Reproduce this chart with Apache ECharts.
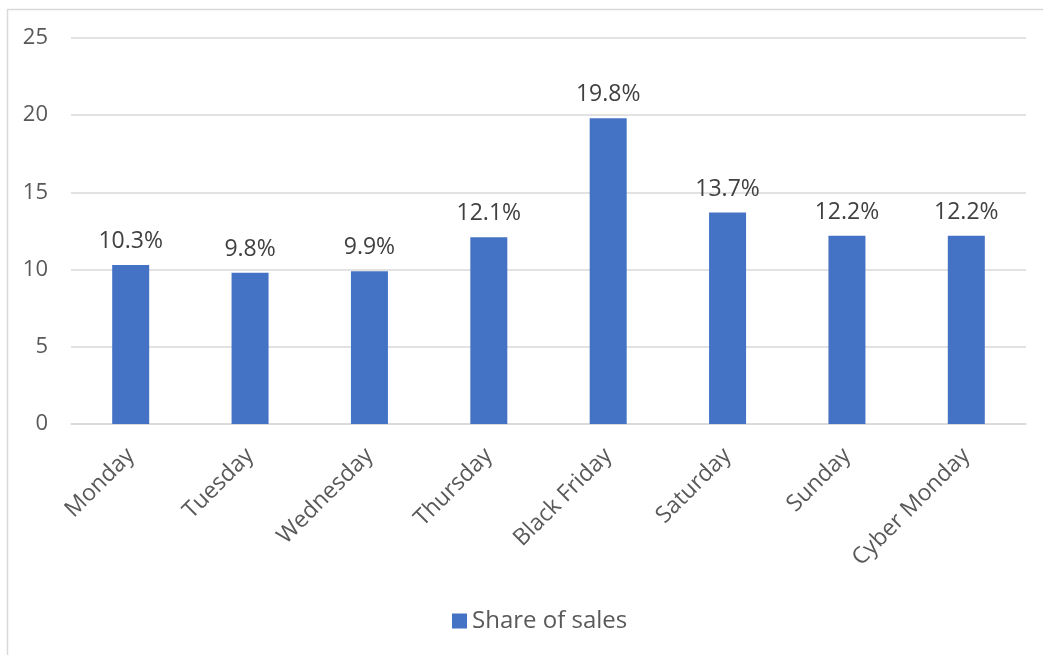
<!DOCTYPE html>
<html>
<head>
<meta charset="utf-8">
<script src="https://cdn.jsdelivr.net/npm/echarts@6/dist/echarts.min.js"></script>
<style>
  html, body { margin: 0; padding: 0; background: #ffffff; }
  #chart { width: 1043px; height: 655px; }
</style>
</head>
<body>
<div id="chart"></div>
<script>
// Share of sales by day across the Black Friday week
const days = ['Monday', 'Tuesday', 'Wednesday', 'Thursday', 'Black Friday', 'Saturday', 'Sunday', 'Cyber Monday'];
const shareOfSales = [10.3, 9.8, 9.9, 12.1, 19.8, 13.7, 12.2, 12.2];
const seriesName = 'Share of sales';

const FONT = '"Open Sans", "Noto Sans", sans-serif';
const TEXT = '#595959';
const GRID = '#d9d9d9';
const BAR = '#4472C4';

const chart = echarts.init(document.getElementById('chart'), null, { renderer: 'canvas' });

chart.setOption({
  backgroundColor: '#ffffff',
  animation: false,
  textStyle: { fontFamily: FONT },
  graphic: [{
    type: 'rect',
    shape: { x: 7.5, y: 9.5, width: 1100, height: 700 },
    style: { fill: 'none', stroke: GRID, lineWidth: 1.5 },
    silent: true,
    z: -1
  }],
  grid: { left: 71, right: 17, top: 38, bottom: 231, containLabel: false },
  legend: {
    bottom: 17,
    left: 447,
    itemWidth: 15,
    itemHeight: 15,
    itemGap: 8,
    icon: 'rect',
    textStyle: { color: TEXT, fontSize: 24, fontFamily: FONT },
    data: [seriesName]
  },
  xAxis: {
    type: 'category',
    data: days,
    axisLine: { show: true, lineStyle: { color: GRID, width: 1.5 } },
    axisTick: { show: false },
    axisLabel: {
      rotate: 45,
      margin: 28,
      color: TEXT,
      fontSize: 23,
      fontFamily: FONT,
      interval: 0
    }
  },
  yAxis: {
    type: 'value',
    min: 0,
    max: 25,
    interval: 5,
    axisLine: { show: false },
    axisTick: { show: false },
    splitLine: { lineStyle: { color: GRID, width: 1.5 } },
    axisLabel: { color: TEXT, fontSize: 22, fontFamily: FONT, margin: 23 }
  },
  series: [{
    name: seriesName,
    type: 'bar',
    data: shareOfSales,
    barWidth: 37,
    itemStyle: { color: BAR },
    label: {
      show: true,
      position: 'top',
      distance: 12,
      color: '#404040',
      fontSize: 23,
      fontFamily: FONT,
      formatter: p => p.value.toFixed(1) + '%'
    }
  }]
});
</script>
</body>
</html>
